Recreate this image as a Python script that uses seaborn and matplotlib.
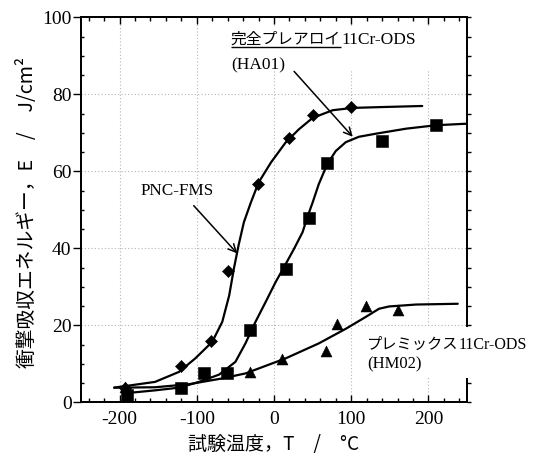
import matplotlib
matplotlib.use("Agg")
import matplotlib.pyplot as plt
from matplotlib.ticker import MultipleLocator
from matplotlib.patches import Rectangle
import seaborn as sns

# ---------------- data ----------------
# PNC-FMS (diamonds)
pnc_T = [-193, -120, -81, -60, -21, 20, 50, 100]
pnc_E = [3.6, 9.5, 15.9, 34.0, 56.7, 68.6, 74.7, 76.7]
pnc_curve_T = [-207, -154, -123, -102, -80, -67, -58, -52, -46, -39, -30, -20, -4, 15, 32, 50, 76, 102, 136, 192]
pnc_curve_E = [3.8, 5.3, 7.9, 11.4, 15.7, 20.9, 27.8, 34.7, 40.7, 46.8, 51.9, 57.1, 62.3, 67.5, 70.9, 73.9, 75.9, 76.5, 76.7, 77.0]

# 完全プレアロイ11Cr-ODS (HA01) (squares)
ha_T = [-190, -120, -91, -61, -31, 15, 45, 69, 140, 210]
ha_E = [1.9, 3.6, 7.7, 7.7, 18.7, 34.7, 48.0, 62.3, 67.9, 72.0]
ha_curve_T = [-195, -154, -123, -97, -71, -50, -37, -24, -11, 2, 14, 26, 37, 43, 50, 58, 69, 80, 93, 110, 132, 171, 210, 250]
ha_curve_E = [2.3, 3.1, 3.8, 5.3, 7.2, 10.5, 15.3, 20.9, 26.0, 31.2, 35.5, 39.9, 44.2, 48.0, 51.9, 56.7, 61.9, 65.3, 67.6, 69.0, 69.8, 71.1, 72.0, 72.4]

# プレミックス11Cr-ODS (HM02) (triangles)
hm_T = [-193, -31, 11, 67, 82, 119, 160]
hm_E = [3.9, 7.9, 11.2, 13.4, 20.4, 24.9, 24.1]
hm_curve_T = [-207, -154, -110, -67, -37, 15, 58, 93, 119, 136, 149, 184, 238]
hm_curve_E = [3.8, 3.9, 4.7, 6.2, 7.5, 11.4, 15.3, 19.1, 22.2, 24.3, 24.9, 25.4, 25.6]

x_label = "試験温度，T　/　°C"
y_label = "衝撃吸収エネルギー，E　/　J/cm²"

# ---------------- style ----------------
sns.set_theme(style="ticks")
SERIF = ["Liberation Serif", "Noto Sans CJK JP", "DejaVu Sans"]
CJK = ["Noto Sans CJK JP", "DejaVu Sans"]
plt.rcParams["font.family"] = SERIF
plt.rcParams["axes.unicode_minus"] = False
plt.rcParams["axes.axisbelow"] = True

fig = plt.figure(figsize=(5.36, 4.65), dpi=100)
ax = fig.add_axes([0.1511, 0.1349, 0.7202, 0.8275])

# curves
for cT, cE in [(pnc_curve_T, pnc_curve_E), (ha_curve_T, ha_curve_E), (hm_curve_T, hm_curve_E)]:
    sns.lineplot(x=cT, y=cE, ax=ax, color="black", linewidth=1.6,
                 estimator=None, sort=False, zorder=4)

# markers
sns.scatterplot(x=pnc_T, y=pnc_E, ax=ax, marker="D", s=38, color="black",
                edgecolor="black", linewidth=0.4, zorder=5)
sns.scatterplot(x=ha_T, y=ha_E, ax=ax, marker="s", s=85, color="black",
                edgecolor="black", linewidth=0.4, zorder=5)
sns.scatterplot(x=hm_T, y=hm_E, ax=ax, marker="^", s=62, color="black",
                edgecolor="black", linewidth=0.4, zorder=5)

ax.set_xlim(-250, 250)
ax.set_ylim(0, 100)
ax.xaxis.set_major_locator(MultipleLocator(100))
ax.xaxis.set_minor_locator(MultipleLocator(20))
ax.yaxis.set_major_locator(MultipleLocator(20))
ax.yaxis.set_minor_locator(MultipleLocator(5))
ax.tick_params(axis="x", which="both", direction="in", top=True, bottom=True,
               color="black", width=1.0, labelsize=14, pad=6.5, labelcolor="black")
ax.tick_params(axis="x", which="major", length=5)
ax.tick_params(axis="x", which="minor", length=3)
ax.tick_params(axis="y", which="both", left=True, right=False, color="black", width=1.0,
               labelsize=14, labelcolor="black")
ax.tick_params(axis="y", which="major", direction="out", length=6, pad=0.8)
ax.tick_params(axis="y", which="minor", direction="in", length=2.5)
for lab in ax.get_xticklabels() + ax.get_yticklabels():
    lab.set_fontfamily(SERIF)

ax.grid(True, which="major", linestyle=(0, (1, 2)), color="#b5b5b5", linewidth=0.8)
for sp in ax.spines.values():
    sp.set_color("black")
    sp.set_linewidth(1.3)

# right-hand axis: ticks pointing outward, no labels
rax = ax.twinx()
rax.set_ylim(0, 100)
rax.yaxis.set_major_locator(MultipleLocator(20))
rax.yaxis.set_minor_locator(MultipleLocator(5))
rax.tick_params(axis="y", which="both", direction="out", length=3, width=1.0,
                color="black", labelright=False, right=True)
rax.grid(False)
for sp in rax.spines.values():
    sp.set_color("black")
    sp.set_linewidth(1.3)

ax.set_xlabel(x_label, fontfamily=CJK, fontsize=13.7, color="black")
ax.xaxis.label.set_va("center")
ax.xaxis.set_label_coords(0.5, -0.111)
ax.set_ylabel(y_label, fontfamily=CJK, fontsize=14.2, color="black")
ax.yaxis.label.set_va("center")
ax.yaxis.set_label_coords(-0.139, 0.4945)

# white areas behind the labels (they hide grid / spine as in the original)
ax.add_patch(Rectangle((-60, 86), 270, 11.8, facecolor="white", edgecolor="none", zorder=1))
rax.add_patch(Rectangle((117, 6.3), 220, 13.3, facecolor="white", edgecolor="none",
                        zorder=3, clip_on=False))

# annotations
ax.text(-125.6, 55, "PNC-FMS", fontfamily=SERIF, fontsize=12.3, ha="center", va="center",
        color="black", zorder=6)
ax.annotate("", xy=(-47.7, 38.7), xytext=(-104, 51.1),
            arrowprops=dict(arrowstyle="->", lw=1.1, color="black", mutation_scale=14,
                            shrinkA=0, shrinkB=0), zorder=6)
ax.annotate("", xy=(102, 69), xytext=(26, 86),
            arrowprops=dict(arrowstyle="->", lw=1.1, color="black", mutation_scale=14,
                            shrinkA=0, shrinkB=0), zorder=6)


def two_part(target, x, y, cjk_txt, latin_txt, fs_cjk, fs_lat, underline=False):
    t1 = target.text(x, y, cjk_txt, fontfamily=CJK, fontsize=fs_cjk, ha="left", va="baseline",
                     color="black", zorder=6, clip_on=False)
    fig.canvas.draw()
    bb = t1.get_window_extent()
    inv = target.transData.inverted()
    x_right, _ = inv.transform((bb.x1, bb.y0))
    target.text(x_right, y, latin_txt, fontfamily=SERIF, fontsize=fs_lat, ha="left",
                va="baseline", color="black", zorder=6, clip_on=False)
    if underline:
        x_left, _ = inv.transform((bb.x0, bb.y0))
        _, y_ul = inv.transform((bb.x0, bb.y0 + 0.5))
        target.plot([x_left, x_right], [y_ul, y_ul], color="black", lw=1.0, zorder=6,
                    solid_capstyle="butt", clip_on=False)


two_part(ax, -56, 93.2, "完全プレアロイ", "11Cr-ODS", 11.3, 12.5, underline=True)
ax.text(-56, 86.6, "(HA01)", fontfamily=SERIF, fontsize=12.5, ha="left", va="baseline",
        color="black", zorder=6)
two_part(rax, 121, 13.8, "プレミックス", "11Cr-ODS", 11.0, 11.5)
rax.text(121, 8.8, "(HM02)", fontfamily=SERIF, fontsize=12, ha="left", va="baseline",
         color="black", zorder=6, clip_on=False)

fig.savefig("out.png", dpi=100, facecolor="white")
